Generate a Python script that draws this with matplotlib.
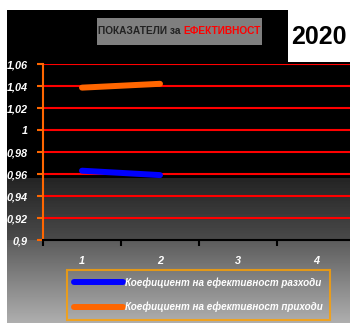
import numpy as np
import matplotlib
matplotlib.use("Agg")
import matplotlib.pyplot as plt
from matplotlib.patches import Rectangle
from matplotlib.transforms import ScaledTranslation

plt.rcParams['font.family'] = ['Liberation Sans', 'DejaVu Sans']

categories = [1, 2, 3, 4]
periods = [1, 2]
expenses = [0.963, 0.959]
income = [1.0385, 1.042]
yticks = [0.9, 0.92, 0.94, 0.96, 0.98, 1.0, 1.02, 1.04, 1.06]
label_expenses = "Коефициент на ефективност разходи"
label_income = "Коефициент на ефективност приходи"

W, H = 350, 323
fig = plt.figure(figsize=(W / 100, H / 100), dpi=100)
fig.patch.set_facecolor("white")

# background: black on top, grey gradient on the lower part
bg = fig.add_axes([7 / W, 0, 1 - 7 / W, (H - 10) / H])
bg.set_axis_off()
rows = H - 10
col = np.zeros(rows)
a, b = 178 - 10, 240 - 10
col[a:b] = np.linspace(0.14, 0.29, b - a)
col[b:] = np.linspace(0.36, 0.68, rows - b)
img = np.repeat(col[:, None], 10, axis=1)
bg.imshow(img, cmap="gray", vmin=0, vmax=1, aspect="auto", interpolation="nearest")

# plot area
x0, x1 = 43, 355
y_top, y_bot = 64, 240
ax = fig.add_axes([x0 / W, (H - y_bot) / H, (x1 - x0) / W, (y_bot - y_top) / H])
ax.patch.set_alpha(0)
ax.set_xlim(0.5, 4.5)
ax.set_ylim(0.9, 1.06)

for v in yticks[1:]:
    ax.axhline(v, color="#ff0000", lw=1.5, zorder=1)

ax.plot(periods, expenses, color="#0000ff", lw=4.3, solid_capstyle="round",
        label=label_expenses, zorder=3)
ax.plot(periods, income, color="#ff6600", lw=4.3, solid_capstyle="round",
        label=label_income, zorder=3)

for s in ["top", "right"]:
    ax.spines[s].set_visible(False)
ax.spines["left"].set_color("#ff6600")
ax.spines["left"].set_linewidth(1.5)
ax.spines["bottom"].set_color("black")
ax.spines["bottom"].set_linewidth(1.5)

ax.set_yticks(yticks)
ax.set_yticklabels([f"{v:g}".replace(".", ",") for v in yticks])
ax.tick_params(axis="y", colors="#ff6600", length=4, width=1.5, pad=7)
for t in ax.get_yticklabels():
    t.set_color("white")
    t.set_fontsize(7.8)
    t.set_fontweight("bold")
    t.set_fontstyle("italic")

ax.set_xticks([0.5, 1.5, 2.5, 3.5])
ax.set_xticklabels([])
ax.tick_params(axis="x", colors="black", length=4, width=1.5)
offset = ScaledTranslation(0, -16 / 100, fig.dpi_scale_trans)
for c in categories:
    ax.text(c, 0.9, str(c), transform=ax.transData + offset, ha="center", va="top",
            color="white", fontsize=7.8, fontweight="bold", fontstyle="italic")

# legend
leg = ax.legend(loc="upper left", bbox_to_anchor=(67 / W, (H - 270) / H),
                bbox_transform=fig.transFigure, frameon=True, fancybox=False,
                handlelength=4.9, handletextpad=0.2, labelspacing=1.4,
                borderpad=0.75, borderaxespad=0,
                prop={"size": 7.1, "weight": "bold", "style": "italic"})
leg.get_frame().set_facecolor("none")
leg.get_frame().set_edgecolor("#ffa000")
leg.get_frame().set_linewidth(1.5)
for t in leg.get_texts():
    t.set_color("white")

# title box
fig.patches.append(Rectangle((97 / W, (H - 45) / H), 165 / W, 27 / H,
                             transform=fig.transFigure, facecolor="#7f7f7f",
                             edgecolor="none", zorder=2))
t1 = fig.text(98 / W, (H - 31) / H, "ПОКАЗАТЕЛИ за ", fontsize=7.3, fontweight="bold",
              color="#222222", va="center", ha="left", zorder=3)
fig.canvas.draw()
bb = t1.get_window_extent()
fig.text(bb.x1 / W, (H - 31) / H, "ЕФЕКТИВНОСТ", fontsize=7.3, fontweight="bold",
         color="#ff0000", va="center", ha="left", zorder=3)

# year box
fig.patches.append(Rectangle((288 / W, (H - 62) / H), 62 / W, 52 / H,
                             transform=fig.transFigure, facecolor="white",
                             edgecolor="none", zorder=2))
fig.text(319 / W, (H - 37) / H, "2020", fontsize=18, fontweight="bold",
         color="black", ha="center", va="center", zorder=3)

fig.savefig("out.png", dpi=100)
